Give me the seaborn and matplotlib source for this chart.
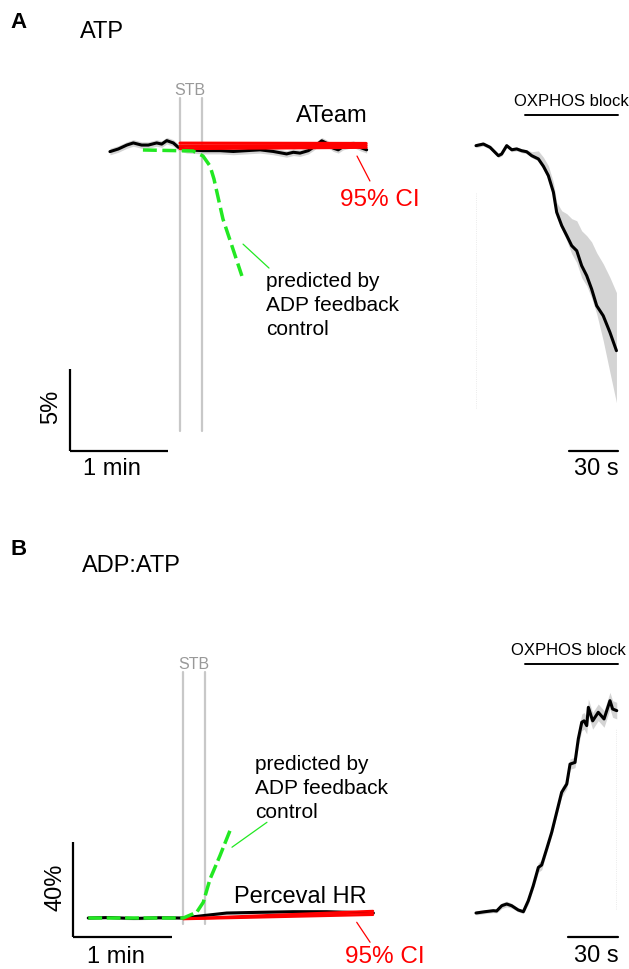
import numpy as np
import matplotlib
matplotlib.use("Agg")
import matplotlib.pyplot as plt
import seaborn as sns

# ---- data (time in s, signal change in %) ----
# A: ATeam (ATP), STB stimulation at t = 0
ateam_t = [-42.9, -37.8, -32.6, -28.6, -23.5, -19.4, -14.3, -11.2, -8.1, -4.1, -1.0,
           4.1, 14.3, 24.5, 32.6, 40.8, 49.0, 57.1, 65.3, 69.4, 73.5, 78.6, 81.6,
           86.8, 89.8, 93.9, 96.9, 100.0, 106.1, 110.2, 114.3]
ateam_v = [-0.16, 0.0, 0.24, 0.37, 0.24, 0.24, 0.37, 0.30, 0.51, 0.37, 0.10,
           -0.05, -0.10, -0.10, -0.15, -0.10, -0.05, -0.15, -0.30, -0.20, -0.25, -0.10, 0.10,
           0.50, 0.35, 0.05, -0.05, 0.15, 0.30, 0.10, -0.05]
ateam_sem = 0.2
ateam_ci_t = [0, 114]
ateam_fit = [0.18, 0.22]
ateam_ci_hi = [0.36, 0.34]
ateam_ci_lo = [0.02, 0.10]
pred_a_t = [-22.7, 8.0, 14.1, 18.4, 20.8, 26.3, 31.8, 37.9]
pred_a_v = [-0.06, -0.12, -0.43, -1.04, -1.83, -4.27, -5.91, -7.74]

# A right: OXPHOS block
oxa_t = [0, 4.5, 8.6, 13.7, 15.7, 18.8, 21.9, 24.9, 28.0, 31.0, 34.1, 38.2, 41.3, 44.3,
         47.4, 49.4, 52.5, 55.6, 58.6, 61.7, 64.7, 67.8, 70.8, 73.9, 77.9, 82.0, 86.0]
oxa_v = [-0.04, 0.06, -0.14, -0.65, -0.55, -0.04, -0.29, -0.24, -0.35, -0.41, -0.65,
         -0.85, -1.30, -1.87, -2.88, -4.10, -4.92, -5.53, -6.14, -6.45, -7.36, -7.97,
         -8.78, -9.80, -10.41, -11.42, -12.54]
oxa_hi = [0.08, 0.18, -0.02, -0.53, -0.43, 0.08, -0.17, -0.12, -0.23, -0.29, -0.41,
          -0.36, -0.75, -1.26, -2.27, -3.49, -4.01, -4.19, -4.49, -4.62, -5.23, -5.53,
          -5.91, -6.57, -7.24, -8.07, -9.00]
oxa_lo = [-0.16, -0.06, -0.26, -0.77, -0.67, -0.16, -0.41, -0.36, -0.47, -0.53, -0.77,
          -0.97, -1.48, -2.05, -3.12, -4.34, -5.16, -5.83, -6.63, -7.18, -8.09, -8.58,
          -9.33, -10.29, -11.93, -13.86, -15.71]

# B: Perceval HR (ADP:ATP)
perc_t = [-57.6, -45.0, -30.0, -15.0, 0.0, 12.1, 26.3, 46.5, 66.7, 86.9, 115.2]
perc_v = [0.0, 0.2, -0.2, 0.1, 0.0, 1.0, 2.1, 2.4, 2.65, 2.65, 2.1]
perc_sem = 0.6
perc_ci_t = [0, 115]
perc_fit = [-0.4, 2.1]
perc_ci_hi = [-0.2, 3.0]
perc_ci_lo = [-0.5, 1.3]
pred_b_t = [-57.6, 0.0, 8.1, 12.1, 16.2, 22.2, 28.3]
pred_b_v = [0.0, 0.0, 2.4, 6.6, 16.4, 26.2, 36.8]

# B right: OXPHOS block
oxb_t = [0, 5.5, 10.5, 12.5, 15.6, 18.6, 21.6, 25.6, 28.7, 31.7, 34.7, 37.8, 39.8, 42.8,
         45.9, 48.9, 51.9, 55.0, 57.0, 60.0, 62.0, 64.1, 65.5, 67.1, 68.1, 70.7, 74.1,
         77.6, 81.2, 82.8, 85.3]
oxb_v = [0, 0.55, 0.97, 0.84, 3.07, 3.79, 3.07, 1.26, 0.55, 5.18, 11.5, 19.2, 20.2, 26.9,
         34.0, 42.4, 50.8, 54.3, 62.7, 63.4, 73.3, 80.3, 80.9, 78.9, 86.6, 80.9, 84.5,
         81.7, 89.4, 85.9, 85.2]
oxb_sem = [0.8, 0.8, 0.8, 0.8, 1.2, 1.2, 1.0, 0.8, 0.8, 1.5, 1.5, 2.0, 2.0, 1.5,
           1.5, 1.5, 2.0, 2.0, 2.2, 2.2, 3.0, 3.5, 3.5, 3.5, 3.5, 3.5, 3.5,
           3.5, 3.5, 3.5, 3.5]

W, H = 629, 970
GREEN = "#22e822"
STB_GRAY = "#c8c8c8"
BAND = "#d4d4d4"

sns.set_style("white")
plt.rcParams["font.family"] = ["Liberation Sans", "DejaVu Sans"]
plt.rcParams["text.color"] = "black"

fig = plt.figure(figsize=(W / 100, H / 100), dpi=100)


def add_panel(left, top, right, bottom, x0, y0, sx, sy):
    # axes placed in pixel rect, t=0 at x0 px and 0 % at y0 px
    ax = fig.add_axes([left / W, 1 - bottom / H, (right - left) / W, (bottom - top) / H])
    ax.set_xlim((left - x0) / sx, (right - x0) / sx)
    ax.set_ylim((y0 - bottom) / sy, (y0 - top) / sy)
    ax.set_axis_off()
    return ax


def ftext(x, y, s, **kw):
    kw.setdefault("va", "baseline")
    fig.text(x / W, 1 - y / H, s, **kw)


def trace(ax, t, v, lo, hi, lw=2.2):
    ax.fill_between(t, lo, hi, color=BAND, lw=0)
    sns.lineplot(x=t, y=v, ax=ax, color="black", lw=lw, sort=False, estimator=None)


# ---------- A left ----------
axA = add_panel(40, 60, 450, 490, 180, 150, 1.633, 16.4)
for ts in [0, 13.5]:
    axA.plot([ts, ts], [-17.2, 3.1], color=STB_GRAY, lw=1.6)
a_t = np.array(ateam_t)
a_v = np.array(ateam_v)
trace(axA, a_t, a_v, a_v - ateam_sem, a_v + ateam_sem)
for line in [ateam_ci_hi, ateam_fit, ateam_ci_lo]:
    sns.lineplot(x=ateam_ci_t, y=line, ax=axA, color="red", lw=2.2)
sns.lineplot(x=pred_a_t, y=pred_a_v, ax=axA, color=GREEN, lw=2.5, sort=False,
             estimator=None).lines[-1].set_dashes([4, 1.6])
axA.plot([38.6, 54.5], [-5.8, -7.26], color=GREEN, lw=0.9)
axA.plot([108.4, 116.3], [-0.43, -1.95], color="red", lw=0.9)
axA.plot([-67.4, -7.4], [-18.4, -18.4], color="black", lw=1.6, solid_capstyle="butt")
axA.plot([-67.4, -67.4], [-18.4, -13.4], color="black", lw=1.6, solid_capstyle="butt")

# ---------- A right ----------
axAr = add_panel(460, 60, 629, 490, 476, 146, 1.633, 16.4)
axAr.plot([0, 0], [-2.9, -16.1], color="#e4e4e4", lw=0.6, ls=":")
trace(axAr, oxa_t, oxa_v, oxa_lo, oxa_hi)
axAr.plot([30, 87], [1.83, 1.83], color="black", lw=1.4)
axAr.plot([57, 87], [-18.66, -18.66], color="black", lw=1.6)

# ---------- B left ----------
axB = add_panel(40, 640, 450, 970, 183.3, 919, 1.65, 2.375)
for ts in [0, 13.2]:
    axB.plot([ts, ts], [-2.5, 103.6], color=STB_GRAY, lw=1.6)
p_t = np.array(perc_t)
p_v = np.array(perc_v)
trace(axB, p_t, p_v, p_v - perc_sem, p_v + perc_sem)
for line in [perc_ci_hi, perc_fit, perc_ci_lo]:
    sns.lineplot(x=perc_ci_t, y=line, ax=axB, color="red", lw=1.6)
sns.lineplot(x=pred_b_t, y=pred_b_v, ax=axB, color=GREEN, lw=2.5, sort=False,
             estimator=None).lines[-1].set_dashes([4, 1.3])
axB.plot([29.5, 50.7], [29.8, 40.3], color=GREEN, lw=0.9)
axB.plot([105.1, 113.2], [-1.8, -10.2], color="red", lw=0.9)
axB.plot([-67, -7], [-7.9, -7.9], color="black", lw=1.6, solid_capstyle="butt")
axB.plot([-67, -67], [-7.9, 32.1], color="black", lw=1.6, solid_capstyle="butt")

# ---------- B right ----------
axBr = add_panel(460, 620, 629, 970, 476, 914, 1.65, 2.375)
axBr.plot([84.8, 84.8], [1.7, 77.5], color="#e4e4e4", lw=0.6, ls=":")
b_v = np.array(oxb_v)
b_s = np.array(oxb_sem)
trace(axBr, oxb_t, b_v, b_v - b_s, b_v + b_s)
axBr.plot([29.7, 86], [104.8, 104.8], color="black", lw=1.4)
axBr.plot([56, 86], [-10.1, -10.1], color="black", lw=1.6)

# ---------- text ----------
ftext(10, 28, "A", fontsize=16, fontweight="bold")
ftext(80, 38, "ATP", fontsize=17)
ftext(10, 555, "B", fontsize=16, fontweight="bold")
ftext(82, 572, "ADP:ATP", fontsize=17)

ftext(190, 95, "STB", fontsize=11.5, color="#999999", ha="center")
ftext(194, 669, "STB", fontsize=11.5, color="#999999", ha="center")

ftext(332, 122, "ATeam", fontsize=17, ha="center")
ftext(340, 206, "95% CI", fontsize=17.5, color="red")
for i, s in enumerate(["predicted by", "ADP feedback", "control"]):
    ftext(266, 287 + 24 * i, s, fontsize=15)
    ftext(255, 770 + 24 * i, s, fontsize=15)

ftext(112, 475, "1 min", fontsize=17, ha="center")
ftext(51, 407, "5%", fontsize=17, rotation=90, ha="center", va="center")
ftext(571, 106, "OXPHOS block", fontsize=12, ha="center")
ftext(596, 475, "30 s", fontsize=17, ha="center")

ftext(300, 903, "Perceval HR", fontsize=17, ha="center")
ftext(345, 963, "95% CI", fontsize=17.5, color="red")
ftext(116, 963, "1 min", fontsize=17, ha="center")
ftext(56, 887, "40%", fontsize=17, rotation=90, ha="center", va="center")
ftext(568, 655, "OXPHOS block", fontsize=12, ha="center")
ftext(596, 962, "30 s", fontsize=17, ha="center")

fig.savefig("out.png", dpi=100)
